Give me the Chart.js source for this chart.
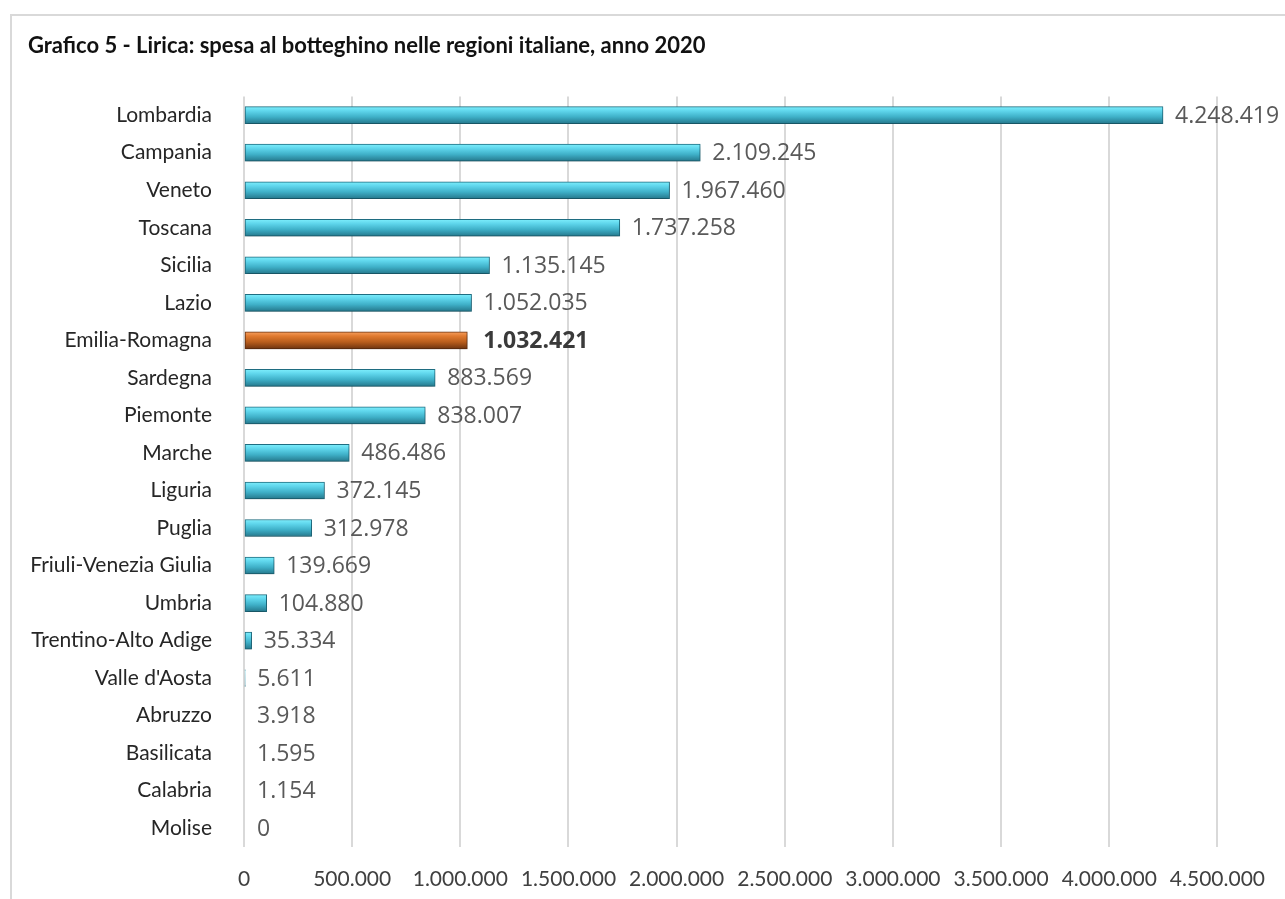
<!DOCTYPE html>
<html>
<head>
<meta charset="utf-8">
<script src="https://cdn.jsdelivr.net/npm/chart.js@4/dist/chart.umd.min.js"></script>
<style>
  body { margin: 0; background: #fff; }
  #wrap { position: relative; width: 1285px; height: 899px; }
  #frame { position: absolute; left: 10px; top: 14px; right: -5px; bottom: -5px; border: 2px solid #d9d9d9; }
  canvas { position: absolute; left: 0; top: 0; }
</style>
</head>
<body>
<div id="wrap">
  <div id="frame"></div>
  <canvas id="chart" width="1285" height="899"></canvas>
</div>
<script>
// Data
const regions = ['Lombardia', 'Campania', 'Veneto', 'Toscana', 'Sicilia', 'Lazio', 'Emilia-Romagna',
  'Sardegna', 'Piemonte', 'Marche', 'Liguria', 'Puglia', 'Friuli-Venezia Giulia', 'Umbria',
  'Trentino-Alto Adige', "Valle d'Aosta", 'Abruzzo', 'Basilicata', 'Calabria', 'Molise'];
const spesa = [4248419, 2109245, 1967460, 1737258, 1135145, 1052035, 1032421,
  883569, 838007, 486486, 372145, 312978, 139669, 104880,
  35334, 5611, 3918, 1595, 1154, 0];
const highlight = 'Emilia-Romagna';

// Format numbers with dots as thousands separator
function fmt(v) {
  return String(Math.round(v)).replace(/\B(?=(\d{3})+(?!\d))/g, '.');
}

const BAR_H = 17;

// Vertical gradient for each bar
function barFill(context) {
  const chart = context.chart;
  const yScale = chart.scales.y;
  if (!chart.chartArea || !yScale) return '#45c0da';
  const cy = yScale.getPixelForValue(context.dataIndex);
  const g = chart.ctx.createLinearGradient(0, cy - BAR_H / 2, 0, cy + BAR_H / 2);
  if (regions[context.dataIndex] === highlight) {
    g.addColorStop(0, '#f7a060');
    g.addColorStop(0.25, '#e07a30');
    g.addColorStop(0.6, '#b85d1c');
    g.addColorStop(1, '#6e3410');
  } else {
    g.addColorStop(0, '#7eeefc');
    g.addColorStop(0.25, '#5fd6ec');
    g.addColorStop(0.6, '#3fb0c8');
    g.addColorStop(1, '#25788c');
  }
  return g;
}

// Soft shadow under bars
const shadowPlugin = {
  id: 'barShadow',
  beforeDatasetsDraw(chart) {
    const ctx = chart.ctx;
    ctx.save();
    ctx.shadowColor = 'rgba(0,0,0,0.25)';
    ctx.shadowBlur = 4;
    ctx.shadowOffsetY = 3;
  },
  afterDatasetsDraw(chart) {
    chart.ctx.restore();
  }
};

// Value labels to the right of the bars
const valueLabels = {
  id: 'valueLabels',
  afterDatasetsDraw(chart) {
    const ctx = chart.ctx;
    const meta = chart.getDatasetMeta(0);
    ctx.save();
    ctx.textBaseline = 'middle';
    ctx.textAlign = 'left';
    meta.data.forEach((bar, i) => {
      const isHi = regions[i] === highlight;
      ctx.font = (isHi ? 'bold ' : '') + '23px "Open Sans"';
      ctx.fillStyle = isHi ? '#3a3a3a' : '#595959';
      ctx.fillText(fmt(spesa[i]), bar.x + (isHi ? 16 : 12), bar.y + 1);
    });
    ctx.restore();
  }
};

new Chart(document.getElementById('chart'), {
  type: 'bar',
  data: {
    labels: regions,
    datasets: [{
      data: spesa,
      backgroundColor: barFill,
      borderColor: regions.map(r => r === highlight ? '#6a3210' : '#1f6e82'),
      borderWidth: 1,
      borderSkipped: false,
      barThickness: BAR_H,
      minBarLength: 1
    }]
  },
  options: {
    indexAxis: 'y',
    responsive: false,
    animation: false,
    layout: { padding: { left: 28, right: 67, top: 0, bottom: 0 } },
    plugins: {
      legend: { display: false },
      tooltip: { enabled: false },
      title: {
        display: true,
        text: 'Grafico 5 - Lirica: spesa al botteghino nelle regioni italiane, anno 2020',
        align: 'start',
        color: '#111',
        font: { family: 'Lato', size: 22, weight: 'bold' },
        padding: { top: 33, bottom: 37 }
      }
    },
    scales: {
      x: {
        min: 0,
        max: 4500000,
        ticks: {
          stepSize: 500000,
          color: '#404040',
          font: { family: 'Lato', size: 21 },
          padding: 20,
          callback: v => fmt(v)
        },
        grid: { color: '#d9d9d9', lineWidth: 2, drawTicks: false },
        border: { display: false },
        afterFit(scale) { scale.height = 52; }
      },
      y: {
        ticks: {
          color: '#262626',
          font: { family: 'Lato', size: 21 },
          padding: 24,
          autoSkip: false
        },
        grid: { display: false },
        border: { display: false },
        afterFit(scale) { scale.width = 216; }
      }
    }
  },
  plugins: [shadowPlugin, valueLabels]
});
</script>
</body>
</html>
